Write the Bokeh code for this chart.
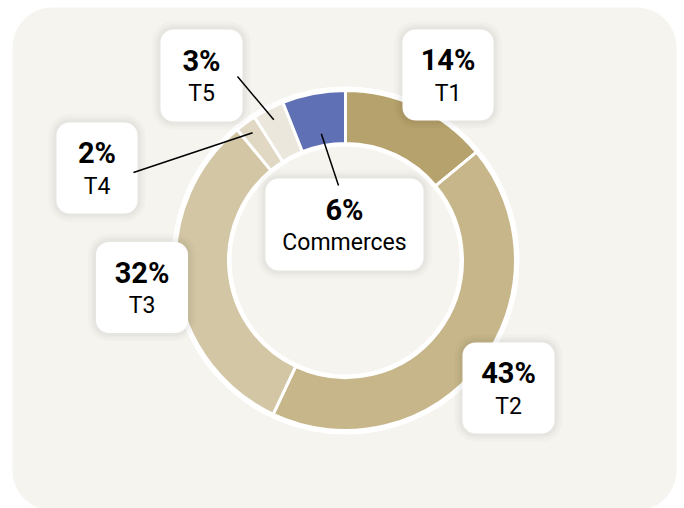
import numpy as np
from bokeh.plotting import figure
from bokeh.models import Range1d, ColumnDataSource
from bokeh.core.properties import value
from bokeh.embed import file_html
from bokeh.resources import INLINE

# ---- data ----
categories = ["T1", "T2", "T3", "T4", "T5", "Commerces"]
shares = [14, 43, 32, 2, 3, 6]
labels_pct = ["14%", "43%", "32%", "2%", "3%", "6%"]
colors = ["#b6a26c", "#c6b689", "#d3c6a5", "#e0d8c2", "#ece7dc", "#6070b4"]

# ---- layout (figure pixel units, y up) ----
W, H = 684, 508
CX, CY = 345, 248
R_OUT, R_IN = 170, 117
box_cx = [447.5, 508, 141.5, 96.5, 201, 344]
box_cy = [433.5, 120.5, 221, 340.5, 433, 284]
box_w = [91, 92, 92, 81, 82, 158]
box_h = [91, 91, 91, 91, 92, 92]
# leader lines: (category index, outer anchor x, y, radius on ring)
leaders = [(3, 133, 336, 158), (4, 237, 432, 158), (5, 338, 323, 129)]

p = figure(width=W, height=H, output_backend="svg", toolbar_location=None,
           x_range=Range1d(0, W), y_range=Range1d(0, H),
           min_border=0, outline_line_color=None,
           background_fill_color="white", border_fill_color="white")
p.axis.visible = False
p.grid.visible = False


def rrect(x0, y0, x1, y1, r, n=12):
    xs, ys = [], []
    corners = [(x1 - r, y1 - r, 0, np.pi / 2), (x0 + r, y1 - r, np.pi / 2, np.pi),
               (x0 + r, y0 + r, np.pi, 1.5 * np.pi), (x1 - r, y0 + r, 1.5 * np.pi, 2 * np.pi)]
    for cx, cy, a0, a1 in corners:
        t = np.linspace(a0, a1, n)
        xs.extend(cx + r * np.cos(t))
        ys.extend(cy + r * np.sin(t))
    return xs, ys


# background panel
bx, by = rrect(12, -2, 676, 501, 40)
p.patch(bx, by, fill_color="#f5f4ef", line_color=None)

# donut
total = float(sum(shares))
cum = np.cumsum([0] + shares) / total
starts = [np.pi / 2 - 2 * np.pi * c for c in cum[:-1]]
ends = [np.pi / 2 - 2 * np.pi * c for c in cum[1:]]
src = ColumnDataSource(dict(cat=categories, start=starts, end=ends, color=colors))
p.annulus(x=CX, y=CY, inner_radius=R_IN - 3, outer_radius=R_OUT + 4,
          fill_color="white", line_color=None)
p.annular_wedge(x=CX, y=CY, inner_radius=R_IN, outer_radius=R_OUT,
                start_angle="start", end_angle="end", direction="clock",
                fill_color="color", line_color="white", line_width=3, source=src)

# label boxes with soft shadow
for k in range(6):
    x0 = box_cx[k] - box_w[k] / 2
    x1 = box_cx[k] + box_w[k] / 2
    y0 = box_cy[k] - box_h[k] / 2
    y1 = box_cy[k] + box_h[k] / 2
    for g in (8, 5, 3):
        sx, sy = rrect(x0 - g, y0 - g, x1 + g, y1 + g, 13 + g)
        p.patch(sx, sy, fill_color="black", fill_alpha=0.018, line_color=None)
    sx, sy = rrect(x0, y0, x1, y1, 13)
    p.patch(sx, sy, fill_color="white", line_color=None)

# leader lines
mids = (cum[:-1] + cum[1:]) / 2
for idx, ax, ay, rr in leaders:
    a = 2 * np.pi * mids[idx]
    px = CX + rr * np.sin(a)
    py = CY + rr * np.cos(a)
    p.line([ax, px], [ay, py], line_color="black", line_width=1.5)

# texts
p.text(x=box_cx, y=[c + 15 for c in box_cy], text=labels_pct,
       text_font=value("Roboto"), text_font_style="bold", text_font_size="29px",
       text_align="center", text_baseline="middle", text_color="black")
p.text(x=box_cx, y=[c - 18 for c in box_cy], text=categories,
       text_font=value("Roboto"), text_font_size="23px",
       text_align="center", text_baseline="middle", text_color="black")

open("out.html", "w").write(file_html(p, INLINE))
